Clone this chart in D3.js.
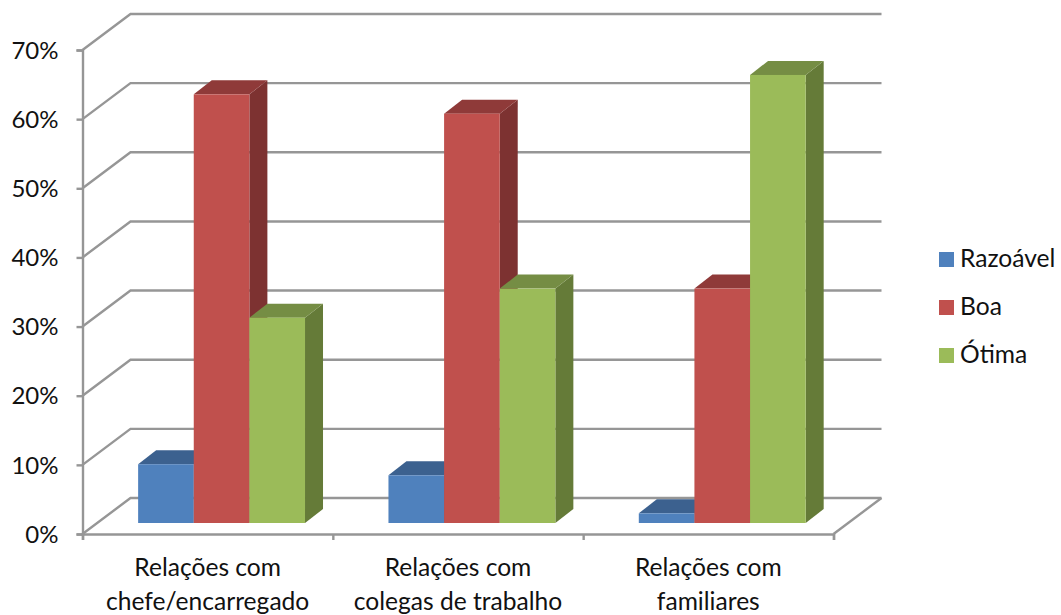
<!DOCTYPE html>
<html>
<head>
<meta charset="utf-8">
<script src="https://cdnjs.cloudflare.com/ajax/libs/d3/7.8.5/d3.min.js"></script>
<style>
	html, body { margin: 0; padding: 0; background: #fff; }
	svg { display: block; }
	text { font-family: Lato, "Open Sans", sans-serif; font-size: 24.6px; fill: #111; }
	.tick text { font-size: 24px; }
</style>
</head>
<body>
<div id="chart"></div>
<script>
// Chart data
let categories = ["Relações com chefe/encarregado", "Relações com colegas de trabalho", "Relações com familiares"];
let categoryLines = [["Relações com", "chefe/encarregado"], ["Relações com", "colegas de trabalho"], ["Relações com", "familiares"]];
let seriesNames = ["Razoável", "Boa", "Ótima"];
let razoavel = [0.085, 0.069, 0.014];
let boa = [0.62, 0.592, 0.339];
let otima = [0.297, 0.339, 0.648];
let seriesValues = [razoavel, boa, otima];
let yTicks = [0, 0.1, 0.2, 0.3, 0.4, 0.5, 0.6, 0.7];

// Colours per series: front, top and side faces
let front = ["#4f81bd", "#c0504d", "#9bbb59"];
let topFace = ["#3c618f", "#8f3a39", "#758d44"];
let sideFace = ["#385a85", "#7d3231", "#657b38"];
let axisColor = "#969696";

let width = 1061, height = 615;
let plot = { left: 82.5, right: 833.5, top: 50, bottom: 534 };
let wall = { dx: 48, dy: -36 }; // offset of the back wall
let barDepth = { dx: 18, dy: -14 }; // depth of each bar
let barLift = -11; // bars stand in the middle of the floor

let svg = d3.select("#chart").append("svg")
	.attr("width", width)
	.attr("height", height);

let y = d3.scaleLinear().domain([0, 0.7]).range([plot.bottom, plot.top]);

// One slot per category, used for the axis ticks and labels
let xEdges = d3.scaleLinear().domain([0, categories.length]).range([plot.left, plot.right]);
let xLabel = d3.scaleBand().domain(categories).range([plot.left, plot.right]);

// Bar groups sit off-centre because of the depth
let x0 = d3.scaleBand()
	.domain(categories)
	.range([plot.left, plot.right])
	.paddingInner(1 / 3)
	.paddingOuter(1 / 6)
	.align(2 / 3);

let x1 = d3.scaleBand().domain(seriesNames).range([0, x0.bandwidth()]);

// Gridlines run up the side wall and along the back wall
svg.append("g").selectAll("polyline")
	.data(yTicks)
	.enter().append("polyline")
	.attr("points", d => [
		[plot.left, y(d)],
		[plot.left + wall.dx, y(d) + wall.dy],
		[plot.right + wall.dx, y(d) + wall.dy]
	].join(" "))
	.attr("fill", "none")
	.attr("stroke", axisColor)
	.attr("stroke-width", 2.4);

// Right edge of the floor
svg.append("line")
	.attr("x1", plot.right)
	.attr("y1", y(0))
	.attr("x2", plot.right + wall.dx)
	.attr("y2", y(0) + wall.dy)
	.attr("stroke", axisColor)
	.attr("stroke-width", 2.4);

// Y axis
let yAxis = d3.axisLeft(y)
	.tickValues(yTicks)
	.tickFormat(d3.format(".0%"))
	.tickSize(6)
	.tickPadding(18);

let yAxisG = svg.append("g")
	.attr("transform", "translate(" + plot.left + ",0)")
	.call(yAxis);
yAxisG.selectAll("line, path").attr("stroke", axisColor).attr("stroke-width", 2.4);
yAxisG.selectAll("text").attr("dy", "0.34em");

// X axis, ticks on the slot edges
let xAxis = d3.axisBottom(xEdges)
	.tickValues(d3.range(categories.length + 1))
	.tickFormat("")
	.tickSize(6);

let xAxisG = svg.append("g")
	.attr("transform", "translate(0," + plot.bottom + ")")
	.call(xAxis);
xAxisG.selectAll("line, path").attr("stroke", axisColor).attr("stroke-width", 2.4);

// Bars, drawn left to right so each front face covers its neighbour's side
let bars = [];
categories.forEach((c, i) => {
	seriesNames.forEach((s, j) => {
		bars.push({ category: c, series: s, index: j, value: seriesValues[j][i] });
	});
});

let bar = svg.append("g").selectAll("g")
	.data(bars)
	.enter().append("g");

let barX = d => x0(d.category) + x1(d.series);
let barTop = d => y(d.value) + barLift;
let barBottom = y(0) + barLift;

// Side face
bar.append("polygon")
	.attr("fill", d => sideFace[d.index])
	.attr("points", d => {
		let r = barX(d) + x1.bandwidth();
		return [[r, barTop(d)], [r + barDepth.dx, barTop(d) + barDepth.dy],
			[r + barDepth.dx, barBottom + barDepth.dy], [r, barBottom]].join(" ");
	});

// Top face
bar.append("polygon")
	.attr("fill", d => topFace[d.index])
	.attr("points", d => {
		let l = barX(d), r = l + x1.bandwidth();
		return [[l, barTop(d)], [l + barDepth.dx, barTop(d) + barDepth.dy],
			[r + barDepth.dx, barTop(d) + barDepth.dy], [r, barTop(d)]].join(" ");
	});

// Front face
bar.append("rect")
	.attr("x", barX)
	.attr("y", barTop)
	.attr("width", x1.bandwidth())
	.attr("height", d => barBottom - barTop(d))
	.attr("fill", d => front[d.index]);

// Category labels on two lines
let labels = svg.append("g").selectAll("text")
	.data(categories)
	.enter().append("text")
	.attr("text-anchor", "middle");

labels.selectAll("tspan")
	.data((d, i) => categoryLines[i].map(t => ({ text: t, category: d })))
	.enter().append("tspan")
	.attr("x", d => xLabel(d.category) + xLabel.bandwidth() / 2)
	.attr("y", (d, i) => 576 + i * 33.5)
	.text(d => d.text);

// Legend
let legend = svg.append("g").selectAll("g")
	.data(seriesNames)
	.enter().append("g")
	.attr("transform", (d, i) => "translate(939," + (252 + i * 48) + ")");

legend.append("rect")
	.attr("width", 15)
	.attr("height", 15)
	.attr("fill", (d, i) => front[i]);

legend.append("text")
	.attr("x", 21)
	.attr("y", 15)
	.text(d => d);
</script>
</body>
</html>
